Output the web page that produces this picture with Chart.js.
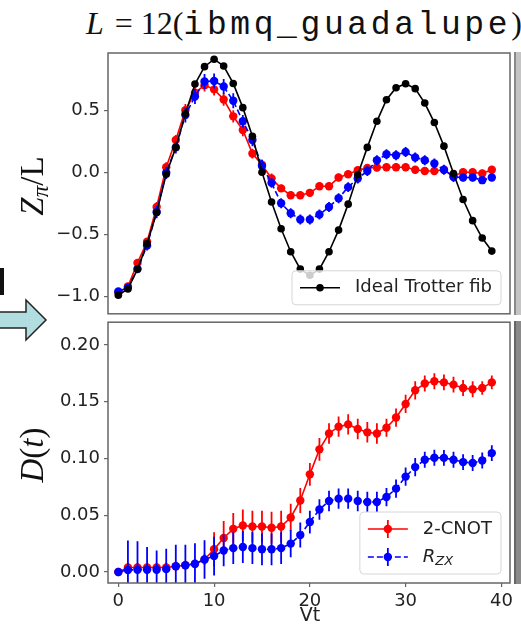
<!DOCTYPE html>
<html>
<head>
<meta charset="utf-8">
<script src="https://cdn.jsdelivr.net/npm/chart.js@4.4.1/dist/chart.umd.min.js"></script>
<style>
  html, body { margin: 0; padding: 0; background: #fff; }
  body { width: 521px; height: 627px; position: relative; overflow: hidden; }
  canvas { position: absolute; left: 0; }
  #zChart { top: 0; }
  #dChart { top: 318px; }
  .txt { position: absolute; white-space: nowrap; color: #111; }
  .serif { font-family: 'Liberation Serif', 'DejaVu Serif', serif; }
  .rot { transform: translate(-50%, -50%) rotate(-90deg); }
  sub { font-size: 0.7em; vertical-align: -0.25em; line-height: 0; }
</style>
</head>
<body>

<div class="txt serif" id="title" style="left:86px; top:5px; display:flex; align-items:baseline; font-size:32px;">
  <span style="font-style:italic">L</span><span style="margin-left:11px">=</span><span style="margin-left:8px">12(</span><span style="font-family:'Liberation Mono','DejaVu Sans Mono',monospace; font-size:33px; letter-spacing:3.6px;">ibmq_guadalupe</span><span>)</span>
</div>

<canvas id="zChart" width="521" height="318"></canvas>
<canvas id="dChart" width="521" height="309"></canvas>

<div class="txt serif rot" style="left:32px; top:186px; font-size:33px;"><i>Z</i><sub><i>π</i></sub>/L</div>
<div class="txt serif rot" style="left:32px; top:455px; font-size:33px;"><i>D</i>(<i>t</i>)</div>
<div class="txt" style="left:310px; top:614px; transform:translate(-50%,-50%); font-family:'DejaVu Sans'; font-size:19px; color:#222;">Vt</div>

<!-- arrow and bits of the neighbouring figure -->
<svg style="position:absolute; left:0; top:260px;" width="50" height="85">
  <rect x="0" y="8" width="4" height="27" fill="#111"/>
  <polygon points="-2,52 26,52 26,40 46,60 26,80 26,68 -2,68" fill="#b2dde0" stroke="#222" stroke-width="1.5"/>
</svg>
<div style="position:absolute; left:514px; top:52px; width:7px; height:263px; background:#c4c4c4; border-left:2px solid #8a8a8a;"></div>
<div style="position:absolute; left:514px; top:321px; width:7px; height:263px; background:#8a8a8a; border-left:2px solid #666;"></div>

<script>
// time steps
const vt = [0, 1, 2, 3, 4, 5, 6, 7, 8, 9, 10, 11, 12, 13, 14, 15, 16, 17, 18, 19,
            20, 21, 22, 23, 24, 25, 26, 27, 28, 29, 30, 31, 32, 33, 34, 35, 36, 37, 38, 39];

// Z_pi / L
const zIdeal = [-0.99, -0.94, -0.78, -0.575, -0.325, -0.016, 0.20, 0.47, 0.71, 0.85,
                0.91, 0.855, 0.715, 0.52, 0.29, 0.0, -0.24, -0.455, -0.64, -0.78,
                -0.83, -0.78, -0.64, -0.466, -0.257, -0.02, 0.20, 0.41, 0.584, 0.68,
                0.713, 0.673, 0.557, 0.40, 0.21, -0.01, -0.22, -0.39, -0.53, -0.635];
const zCnot = [-0.97, -0.92, -0.73, -0.56, -0.28, 0.04, 0.26, 0.50, 0.64, 0.70,
               0.667, 0.585, 0.45, 0.34, 0.15, 0.06, -0.05, -0.13, -0.185, -0.185,
               -0.166, -0.113, -0.113, -0.043, -0.016, 0.016, 0.035, 0.038, 0.04, 0.04,
               0.04, 0.02, 0.01, 0.01, 0.02, -0.03, 0.0, 0.0, -0.01, 0.02];
const zCnotErr = [0.02, 0.02, 0.03, 0.03, 0.04, 0.04, 0.04, 0.05, 0.05, 0.05,
                  0.05, 0.05, 0.05, 0.05, 0.04, 0.04, 0.04, 0.03, 0.03, 0.03,
                  0.03, 0.03, 0.03, 0.03, 0.03, 0.03, 0.03, 0.03, 0.03, 0.03,
                  0.03, 0.03, 0.03, 0.03, 0.03, 0.03, 0.03, 0.03, 0.03, 0.03];
const zRzx = [-0.96, -0.93, -0.78, -0.59, -0.32, -0.005, 0.20, 0.46, 0.61, 0.73,
              0.735, 0.69, 0.575, 0.41, 0.26, 0.05, -0.086, -0.25, -0.33, -0.38,
              -0.38, -0.34, -0.28, -0.21, -0.12, -0.05, 0.01, 0.096, 0.145, 0.137,
              0.163, 0.118, 0.096, 0.07, 0.02, -0.038, -0.043, -0.043, -0.064, -0.043];
const zRzxErr = [0.02, 0.03, 0.03, 0.04, 0.05, 0.05, 0.05, 0.06, 0.06, 0.06,
                 0.06, 0.06, 0.06, 0.05, 0.05, 0.05, 0.04, 0.04, 0.04, 0.04,
                 0.04, 0.04, 0.04, 0.04, 0.04, 0.04, 0.04, 0.04, 0.04, 0.04,
                 0.04, 0.04, 0.04, 0.04, 0.04, 0.04, 0.03, 0.03, 0.03, 0.03];

// D(t)
const dCnot = [0.0, 0.004, 0.004, 0.004, 0.004, 0.004, 0.005, 0.006, 0.007, 0.011,
               0.02, 0.03, 0.038, 0.041, 0.040, 0.040, 0.039, 0.040, 0.048, 0.063,
               0.086, 0.108, 0.122, 0.128, 0.130, 0.126, 0.123, 0.122, 0.127, 0.136,
               0.148, 0.160, 0.166, 0.168, 0.167, 0.165, 0.162, 0.161, 0.162, 0.167];
const dCnotErr = [0.002, 0.004, 0.004, 0.004, 0.004, 0.004, 0.004, 0.004, 0.004, 0.005,
                  0.015, 0.015, 0.014, 0.014, 0.014, 0.014, 0.014, 0.014, 0.012, 0.011,
                  0.010, 0.010, 0.009, 0.009, 0.009, 0.009, 0.009, 0.009, 0.008, 0.008,
                  0.008, 0.008, 0.007, 0.007, 0.007, 0.007, 0.007, 0.007, 0.006, 0.006];
const dRzx = [0.0, 0.0017, 0.002, 0.002, 0.002, 0.0025, 0.005, 0.006, 0.0073, 0.011,
              0.014, 0.019, 0.021, 0.022, 0.021, 0.020, 0.020, 0.021, 0.025, 0.0325,
              0.044, 0.055, 0.0626, 0.0646, 0.0646, 0.0626, 0.0617, 0.0617, 0.066, 0.0734,
              0.084, 0.0924, 0.0988, 0.1006, 0.1005, 0.0988, 0.0968, 0.096, 0.0982, 0.1047];
const dRzxErr = [0.002, 0.026, 0.025, 0.020, 0.017, 0.018, 0.019, 0.018, 0.018, 0.017,
                 0.017, 0.014, 0.014, 0.014, 0.014, 0.014, 0.014, 0.014, 0.012, 0.011,
                 0.010, 0.009, 0.009, 0.009, 0.009, 0.009, 0.009, 0.009, 0.008, 0.008,
                 0.008, 0.008, 0.007, 0.007, 0.007, 0.007, 0.007, 0.007, 0.007, 0.007];

const xTicks = [0, 10, 20, 30, 40];
const zTicks = [-1.0, -0.5, 0.0, 0.5];
const dTicks = [0.0, 0.05, 0.10, 0.15, 0.20];

const RED = '#ff0000', BLUE = '#0000ff', BLACK = '#000000';
const FRAME = '#666666';

Chart.defaults.font.family = "'DejaVu Sans', sans-serif";
Chart.defaults.font.size = 18;
Chart.defaults.color = '#222';

const pts = (ys) => vt.map((x, i) => ({ x, y: ys[i] }));
const minus = (s) => s.replace('-', '\u2212');

// vertical error bars, drawn just under each dataset's line and markers
const errorBars = {
  id: 'errorBars',
  beforeDatasetDraw(chart, args) {
    const ds = chart.data.datasets[args.index];
    if (!ds.errors) return;
    const { ctx, chartArea: a } = chart;
    const ys = chart.scales.y;
    const els = args.meta.data;
    ctx.save();
    ctx.beginPath();
    ctx.rect(a.left, a.top, a.right - a.left, a.bottom - a.top);
    ctx.clip();
    ctx.strokeStyle = ds.borderColor;
    ctx.lineWidth = 1.8;
    ds.data.forEach((p, i) => {
      const e = ds.errors[i];
      const px = els[i].x;
      ctx.beginPath();
      ctx.moveTo(px, ys.getPixelForValue(p.y - e));
      ctx.lineTo(px, ys.getPixelForValue(p.y + e));
      ctx.stroke();
    });
    ctx.restore();
  },
  afterDatasetsDraw(chart) {
    const { ctx, chartArea: a } = chart;
    ctx.save();
    ctx.strokeStyle = FRAME;
    ctx.lineWidth = 1.5;
    ctx.strokeRect(a.left, a.top, a.right - a.left, a.bottom - a.top);
    ctx.restore();
  }
};

function drawLabel(ctx, text, x, y) {
  const parts = text.split('_');
  if (parts.length === 1) {
    ctx.font = "18px 'DejaVu Sans'";
    ctx.fillText(text, x, y);
    return ctx.measureText(text).width;
  }
  ctx.font = "italic 18px 'DejaVu Sans'";
  ctx.fillText(parts[0], x, y);
  const w0 = ctx.measureText(parts[0]).width;
  ctx.font = "italic 13px 'DejaVu Sans'";
  ctx.fillText(parts[1], x + w0, y + 5);
  return w0 + ctx.measureText(parts[1]).width;
}

function labelWidth(ctx, text) {
  ctx.save();
  ctx.globalAlpha = 0;
  const w = drawLabel(ctx, text, 0, 0);
  ctx.restore();
  return w;
}

// framed legend in the lower right corner of the axes
const boxLegend = {
  id: 'boxLegend',
  afterDraw(chart, args, opts) {
    const items = opts.items || [];
    if (!items.length) return;
    const { ctx, chartArea: a } = chart;
    const dss = chart.data.datasets;
    ctx.save();
    const tw = Math.max(...items.map(i => labelWidth(ctx, dss[i].label)));
    const rowH = 28;
    const w = 8 + 40 + 15 + tw + 9;
    const h = items.length * rowH + 6;
    const x0 = a.right - 9 - w, y0 = a.bottom - 9 - h;
    ctx.beginPath();
    ctx.roundRect(x0, y0, w, h, 4);
    ctx.fillStyle = 'rgba(255,255,255,0.8)';
    ctx.fill();
    ctx.strokeStyle = '#d6d6d6';
    ctx.lineWidth = 1;
    ctx.stroke();
    items.forEach((i, r) => {
      const ds = dss[i];
      const cy = y0 + 3 + rowH * (r + 0.5);
      const hx = x0 + 8;
      ctx.strokeStyle = ds.borderColor;
      ctx.lineWidth = 1.6;
      ctx.setLineDash(ds.borderDash || []);
      ctx.beginPath();
      ctx.moveTo(hx, cy);
      ctx.lineTo(hx + 40, cy);
      ctx.stroke();
      ctx.setLineDash([]);
      if (ds.errors) {
        ctx.lineWidth = 1.8;
        ctx.beginPath();
        ctx.moveTo(hx + 20, cy - 9);
        ctx.lineTo(hx + 20, cy + 9);
        ctx.stroke();
      }
      ctx.fillStyle = ds.backgroundColor;
      ctx.beginPath();
      ctx.arc(hx + 20, cy, ds.pointRadius, 0, Math.PI * 2);
      ctx.fill();
      ctx.fillStyle = '#222';
      ctx.textBaseline = 'middle';
      drawLabel(ctx, ds.label, hx + 55, cy);
    });
    ctx.restore();
  }
};

function series(label, data, color, extra) {
  return Object.assign({
    label,
    data: pts(data),
    borderColor: color,
    backgroundColor: color,
    borderWidth: 1.6,
    pointRadius: 4.2,
    pointBorderWidth: 0,
    pointHoverRadius: 4.2,
    tension: 0
  }, extra);
}

function options(yMin, yMax, yTickVals, digits, showX, legendItems, pad) {
  return {
    responsive: false,
    animation: false,
    devicePixelRatio: 1,
    layout: { padding: pad },
    plugins: {
      legend: { display: false },
      tooltip: { enabled: false },
      boxLegend: { items: legendItems }
    },
    scales: {
      x: {
        type: 'linear',
        min: -1.08,
        max: 40.9,
        display: showX,
        afterBuildTicks: (s) => { s.ticks = xTicks.map(v => ({ value: v })); },
        afterFit: (s) => { s.height = showX ? 44 : 0; },
        ticks: { padding: 4, maxRotation: 0, callback: (v) => String(v) },
        grid: { drawOnChartArea: false, drawTicks: true, tickLength: 4, color: FRAME, lineWidth: 1.2 },
        border: { display: false }
      },
      y: {
        type: 'linear',
        min: yMin,
        max: yMax,
        afterBuildTicks: (s) => { s.ticks = yTickVals.map(v => ({ value: v })); },
        afterFit: (s) => { s.width = 108; s.paddingTop = 0; s.paddingBottom = 0; },
        ticks: { padding: 4, callback: (v) => minus(Number(v).toFixed(digits)) },
        grid: { drawOnChartArea: false, drawTicks: true, tickLength: 4, color: FRAME, lineWidth: 1.2 },
        border: { display: false }
      }
    }
  };
}

new Chart(document.getElementById('zChart'), {
  type: 'line',
  data: {
    datasets: [
      series('Ideal Trotter fib', zIdeal, BLACK, { pointRadius: 3.8, order: 0 }),
      series('R_ZX', zRzx, BLUE, { errors: zRzxErr, borderDash: [6, 3], order: 1 }),
      series('2-CNOT', zCnot, RED, { errors: zCnotErr, order: 2 })
    ]
  },
  options: options(-1.14, 0.96, zTicks, 1, false, [0], { top: 53, right: 11, bottom: 4, left: 0 }),
  plugins: [errorBars, boxLegend]
});

new Chart(document.getElementById('dChart'), {
  type: 'line',
  data: {
    datasets: [
      series('2-CNOT', dCnot, RED, { errors: dCnotErr, order: 2 }),
      series('R_ZX', dRzx, BLUE, { errors: dRzxErr, borderDash: [6, 3], order: 1 })
    ]
  },
  options: options(-0.0097, 0.22, dTicks, 2, true, [0, 1], { top: 4, right: 11, bottom: 0, left: 0 }),
  plugins: [errorBars, boxLegend]
});
</script>
</body>
</html>
